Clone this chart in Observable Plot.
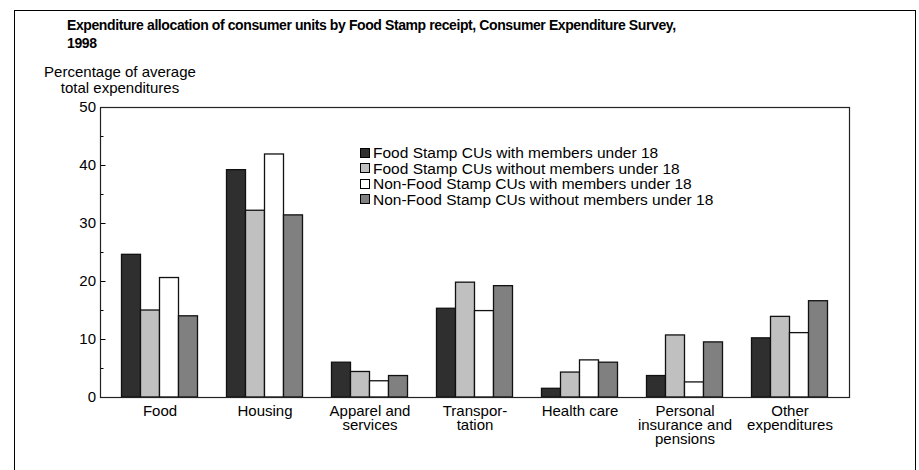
<!DOCTYPE html>
<html><head><meta charset="utf-8">
<script src="https://cdn.jsdelivr.net/npm/d3@7"></script>
<script src="https://cdn.jsdelivr.net/npm/@observablehq/plot@0.6"></script>
<style>
body{margin:0;background:#fff;font-family:"Liberation Sans",Arial,sans-serif;color:#000;}
#wrap{position:relative;width:919px;height:470px;overflow:hidden;}
#border{position:absolute;left:14px;top:10px;width:902px;height:480px;border:1.5px solid #000;box-sizing:border-box;}
#title{position:absolute;left:67px;top:17px;font-weight:bold;font-size:14px;letter-spacing:-0.4px;line-height:17.5px;white-space:nowrap;}
#ylabel{position:absolute;left:20px;width:200px;top:64px;text-align:center;font-size:15px;line-height:15.5px;}
#legend{position:absolute;left:360px;top:145px;font-size:15.5px;line-height:15.5px;white-space:nowrap;}
.item{display:flex;align-items:center;}
.sw{width:10px;height:10px;border:1px solid #000;box-sizing:border-box;margin-right:3px;}
#chart{position:absolute;left:0;top:55px;}
</style>
</head><body>
<div id="wrap">
  <div id="border"></div>
  <div id="title">Expenditure allocation of consumer units by Food Stamp receipt, Consumer Expenditure Survey,<br>1998</div>
  <div id="ylabel">Percentage of average<br>total expenditures</div>
  <div id="chart"></div>
  <div id="legend"></div>
</div>
<script>
const categories = ["Food","Housing","Apparel and services","Transportation","Health care","Personal insurance and pensions","Other expenditures"];
const categoryLabels = ["Food","Housing","Apparel and\nservices","Transpor-\ntation","Health care","Personal\ninsurance and\npensions","Other\nexpenditures"];
const seriesNames = ["Food Stamp CUs with members under 18","Food Stamp CUs without members under 18","Non-Food Stamp CUs with members under 18","Non-Food Stamp CUs without members under 18"];
const seriesColors = ["#2f2f2f","#c0c0c0","#ffffff","#808080"];
const fsWith       = [24.6, 39.2, 6.0, 15.3, 1.5, 3.7, 10.2];
const fsWithout    = [15.0, 32.2, 4.4, 19.8, 4.3, 10.7, 13.9];
const nonFsWith    = [20.6, 41.9, 2.8, 14.9, 6.4, 2.6, 11.1];
const nonFsWithout = [14.0, 31.4, 3.7, 19.2, 6.0, 9.5, 16.6];
const yTicks = [0,10,20,30,40,50];
const yMinorTicks = [5,15,25,35,45];

const seriesValues = [fsWith, fsWithout, nonFsWith, nonFsWithout];
const rows = [];
categories.forEach((c, i) => seriesValues.forEach((vals, s) => rows.push({category: c, series: seriesNames[s], value: vals[i]})));
const labelOf = new Map(categories.map((c, i) => [c, categoryLabels[i]]));

// plot-area frame runs from x=100 to x=849; facets (groups) from 119.5 to 829.5
const frameLeft = 100, frameRight = 849;
const mLeft = 119.5, mRight = 89.5;
const shift = frameLeft - mLeft; // move y axis from first facet edge to frame edge

const plot = Plot.plot({
  width: 919, height: 415,
  marginLeft: mLeft, marginRight: mRight, marginTop: 52, marginBottom: 73,
  style: {fontFamily: "'Liberation Sans', Arial, sans-serif", fontSize: "15px", color: "#000", background: "transparent"},
  fx: {domain: categories, paddingInner: 0.25, paddingOuter: 0, label: null},
  x: {domain: seriesNames, padding: 0, axis: null},
  y: {domain: [0, 50]},
  color: {domain: seriesNames, range: seriesColors},
  marks: [
    Plot.barY(rows, {fx: "category", x: "series", y: "value", fill: "series", stroke: "#111", strokeWidth: 1.3}),
    Plot.axisY({ticks: yTicks, tickSize: 0, tickPadding: 5, dx: shift, label: null, fontSize: 15}),
    Plot.axisY({ticks: yTicks, tickSize: 5, dx: shift + 5, tickFormat: () => "", label: null, stroke: "#000"}),
    Plot.axisY({ticks: yMinorTicks, tickSize: 3, dx: shift + 3, tickFormat: () => "", label: null, stroke: "#000"}),
    Plot.axisFx({anchor: "bottom", tickSize: 0, tickPadding: 9, label: null, fontSize: 15, lineHeight: 0.93, tickFormat: d => labelOf.get(d)})
  ]
});
document.getElementById("chart").appendChild(plot);

// plot-area frame spanning all facets
const ys = plot.scale("y");
const y50 = ys.apply(50), y0 = ys.apply(0);
d3.select(plot).append("rect")
  .attr("x", frameLeft + 0.5).attr("y", Math.round(y50) + 0.5)
  .attr("width", frameRight - frameLeft).attr("height", Math.round(y0) - Math.round(y50))
  .attr("fill", "none").attr("stroke", "#222").attr("stroke-width", 1.2);

const leg = d3.select("#legend");
seriesNames.forEach((n, i) => {
  const it = leg.append("div").attr("class", "item");
  it.append("div").attr("class", "sw").style("background", seriesColors[i]);
  it.append("span").text(n);
});
</script>
</body></html>
